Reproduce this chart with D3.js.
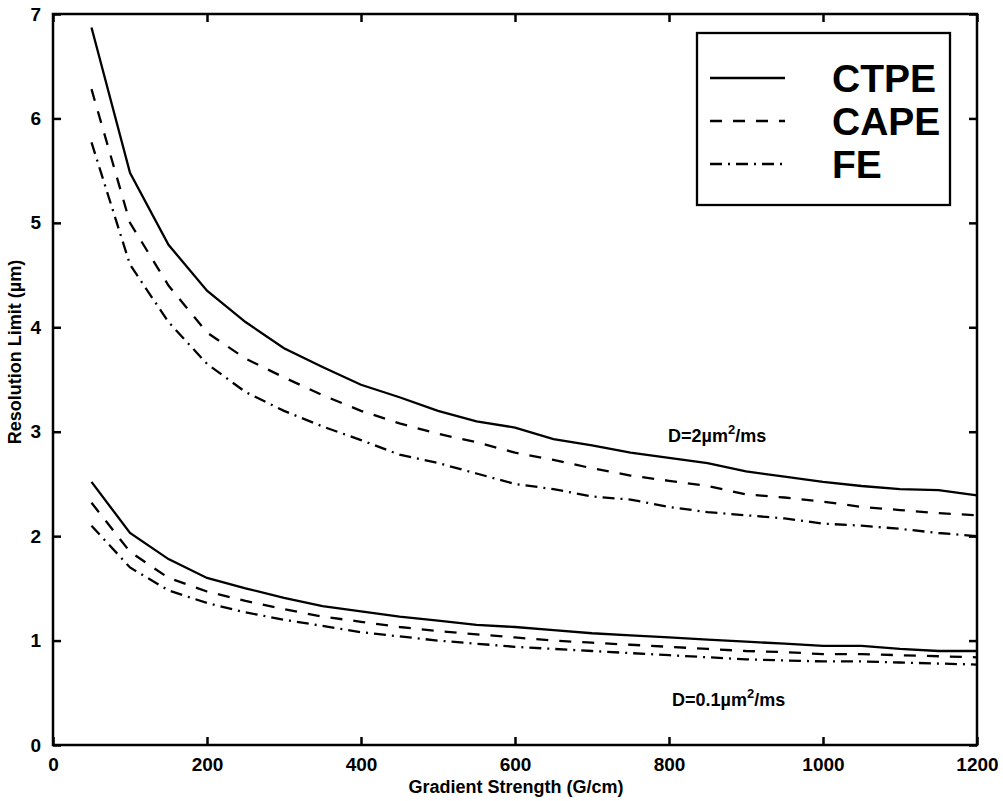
<!DOCTYPE html>
<html lang="en">
  <head>
    <meta charset="utf-8">
    <title>Resolution Limit vs Gradient Strength</title>
    <script src="https://cdn.jsdelivr.net/npm/d3@7"></script>
    <style>
      body { margin: 0; background: #fff; }
      svg text { font-family: "Liberation Sans", Arial, sans-serif; fill: #000; }
      .tick text { font-size: 19px; font-weight: bold; }
      .domain { display: none; }
      .tick line { stroke: #000; stroke-width: 2.5; }
    </style>
  </head>
  <body>
    <svg id="chart" width="1003" height="801"></svg>
    <script>
      // gradient strength (G/cm)
      var gradient = [50, 100, 150, 200, 250, 300, 350, 400, 450, 500, 550, 600,
                      650, 700, 750, 800, 850, 900, 950, 1000, 1050, 1100, 1150, 1200];

      // D = 2 um^2/ms
      var ctpe2 = [6.87, 5.48, 4.79, 4.35, 4.05, 3.8, 3.62, 3.45, 3.33, 3.2, 3.1, 3.04,
                   2.93, 2.87, 2.8, 2.75, 2.7, 2.62, 2.57, 2.52, 2.48, 2.45, 2.44, 2.39];
      var cape2 = [6.28, 5.0, 4.4, 3.95, 3.7, 3.52, 3.35, 3.2, 3.08, 2.98, 2.9, 2.8,
                   2.73, 2.65, 2.58, 2.53, 2.48, 2.4, 2.37, 2.33, 2.28, 2.25, 2.22, 2.2];
      var fe2   = [5.77, 4.6, 4.05, 3.65, 3.38, 3.2, 3.05, 2.92, 2.78, 2.7, 2.6, 2.5,
                   2.45, 2.38, 2.35, 2.28, 2.23, 2.2, 2.17, 2.12, 2.1, 2.07, 2.03, 2.0];

      // D = 0.1 um^2/ms
      var ctpe01 = [2.52, 2.03, 1.78, 1.6, 1.5, 1.41, 1.33, 1.28, 1.23, 1.19, 1.15, 1.13,
                    1.1, 1.07, 1.05, 1.03, 1.01, 0.99, 0.97, 0.95, 0.95, 0.92, 0.9, 0.9];
      var cape01 = [2.32, 1.85, 1.6, 1.47, 1.38, 1.3, 1.23, 1.18, 1.13, 1.09, 1.06, 1.03,
                    1.0, 0.98, 0.96, 0.94, 0.92, 0.9, 0.89, 0.87, 0.87, 0.86, 0.85, 0.84];
      var fe01   = [2.1, 1.7, 1.48, 1.36, 1.27, 1.2, 1.14, 1.08, 1.04, 1.0, 0.97, 0.94,
                    0.92, 0.9, 0.88, 0.86, 0.84, 0.82, 0.81, 0.8, 0.8, 0.79, 0.78, 0.77];

      var xTicks = [0, 200, 400, 600, 800, 1000, 1200];
      var yTicks = [0, 1, 2, 3, 4, 5, 6, 7];
      var legendNames = ["CTPE", "CAPE", "FE"];
      var dashes = [null, "12,11", "12,6,2,6"];

      (function() {
        var svg = d3.select("#chart");
        var mLeft = 53, mRight = 977, mTop = 14, mBottom = 745;

        var x = d3.scaleLinear().domain([0, 1200]).range([mLeft, mRight]);
        var y = d3.scaleLinear().domain([0, 7]).range([mBottom, mTop]);

        // axes, MATLAB style ticks pointing inward on all four sides
        svg.append("g").attr("transform", "translate(0," + mBottom + ")")
            .call(d3.axisBottom(x).tickValues(xTicks).tickSize(-8).tickPadding(13)
                  .tickFormat(d3.format("d")));
        svg.append("g").attr("transform", "translate(0," + mTop + ")")
            .call(d3.axisTop(x).tickValues(xTicks).tickSize(-8).tickFormat(""));
        svg.append("g").attr("transform", "translate(" + mLeft + ",0)")
            .call(d3.axisLeft(y).tickValues(yTicks).tickSize(-8).tickPadding(12)
                  .tickFormat(d3.format("d")));
        svg.append("g").attr("transform", "translate(" + mRight + ",0)")
            .call(d3.axisRight(y).tickValues(yTicks).tickSize(-8).tickFormat(""));

        svg.append("rect")
            .attr("x", mLeft).attr("y", mTop)
            .attr("width", mRight - mLeft).attr("height", mBottom - mTop)
            .attr("fill", "none").attr("stroke", "#000").attr("stroke-width", 2.5);

        var line = d3.line()
            .x(function(d) { return x(d[0]); })
            .y(function(d) { return y(d[1]); });

        var series = [ctpe2, cape2, fe2, ctpe01, cape01, fe01];
        series.forEach(function(s, i) {
          svg.append("path")
              .datum(gradient.map(function(g, j) { return [g, s[j]]; }))
              .attr("d", line)
              .attr("fill", "none")
              .attr("stroke", "#000")
              .attr("stroke-width", 2.3)
              .attr("stroke-dasharray", dashes[i % 3]);
        });

        // annotations
        var ann1 = svg.append("text").attr("x", 668).attr("y", 442)
            .style("font-size", "18px").style("font-weight", "bold");
        ann1.append("tspan").text("D=2\u00b5m");
        ann1.append("tspan").attr("dy", -8).style("font-size", "13px").text("2");
        ann1.append("tspan").attr("dy", 8).text("/ms");

        var ann2 = svg.append("text").attr("x", 672).attr("y", 706)
            .style("font-size", "18px").style("font-weight", "bold");
        ann2.append("tspan").text("D=0.1\u00b5m");
        ann2.append("tspan").attr("dy", -8).style("font-size", "13px").text("2");
        ann2.append("tspan").attr("dy", 8).text("/ms");

        // legend
        var lg = svg.append("g");
        lg.append("rect").attr("x", 697).attr("y", 33).attr("width", 253).attr("height", 172)
            .attr("fill", "#fff").attr("stroke", "#000").attr("stroke-width", 2.3);
        legendNames.forEach(function(name, i) {
          var ly = 78 + i * 43;
          lg.append("line").attr("x1", 710).attr("x2", 785)
              .attr("y1", ly).attr("y2", ly)
              .attr("stroke", "#000").attr("stroke-width", 2.3)
              .attr("stroke-dasharray", dashes[i]);
          lg.append("text").attr("x", 832).attr("y", ly + 14)
              .style("font-size", "39px").style("font-weight", "bold")
              .text(name);
        });

        // axis titles
        svg.append("text").attr("x", 516).attr("y", 793)
            .attr("text-anchor", "middle")
            .style("font-size", "18px").style("font-weight", "bold")
            .text("Gradient Strength (G/cm)");
        svg.append("text")
            .attr("transform", "translate(21,352) rotate(-90)")
            .attr("text-anchor", "middle")
            .style("font-size", "18px").style("font-weight", "bold")
            .text("Resolution Limit (\u00b5m)");
      })();
    </script>
  </body>
</html>
